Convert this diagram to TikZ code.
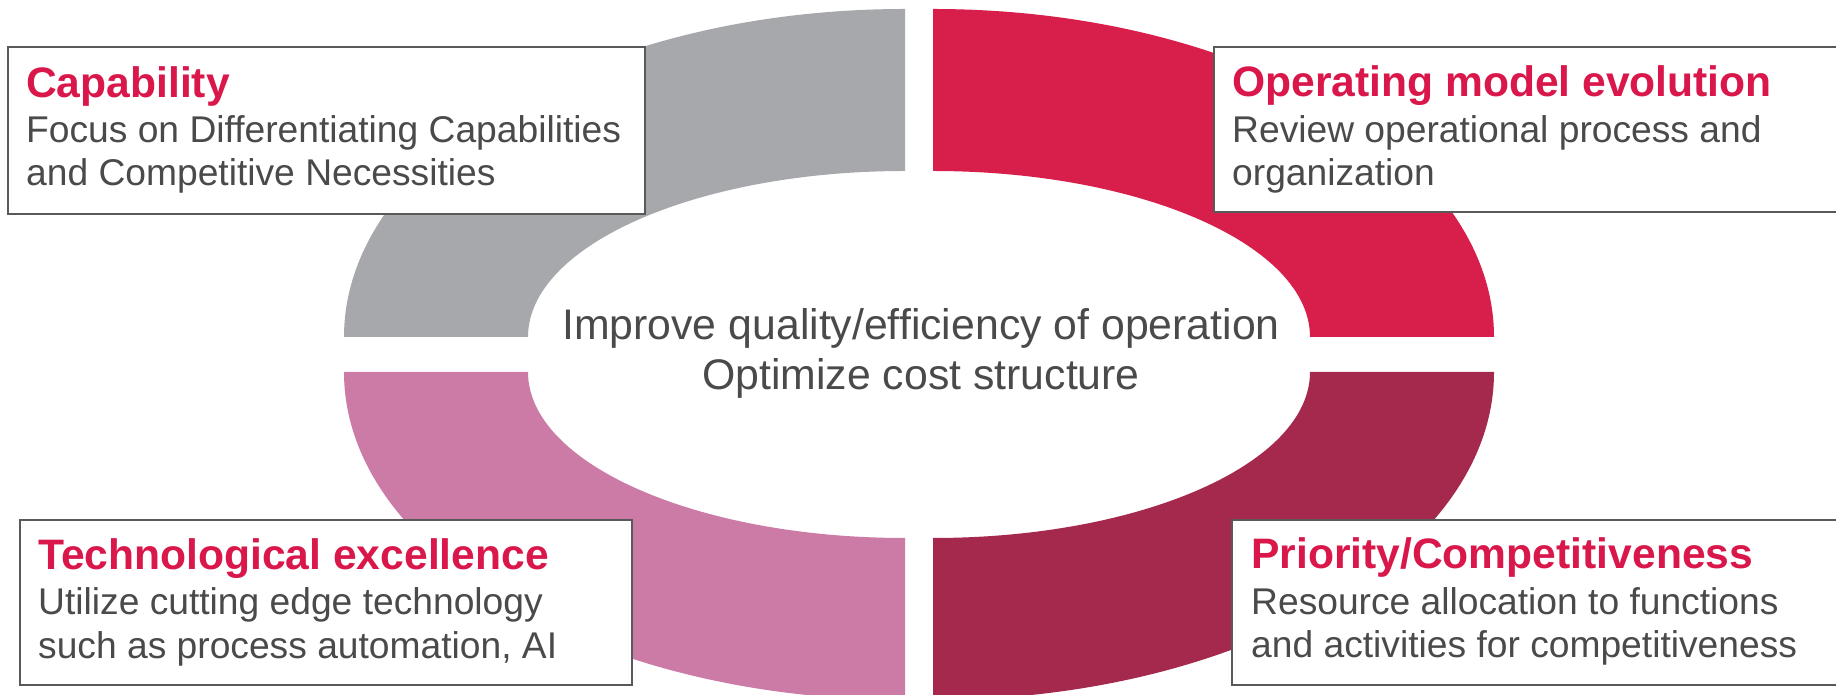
\documentclass[tikz,border=0pt]{standalone}
\usepackage{fontspec}
\setmainfont{Liberation Sans}
\definecolor{qgray}{HTML}{A7A8AC}
\definecolor{qred}{HTML}{D81F4B}
\definecolor{qpink}{HTML}{CB7BA6}
\definecolor{qdark}{HTML}{A5294C}
\definecolor{ttl}{HTML}{D9174A}
\definecolor{bodytxt}{HTML}{4A4A4A}
\definecolor{boxline}{HTML}{595959}
\tikzset{
  infobox/.style={draw=boxline, line width=2pt, fill=white, rectangle, anchor=north west, inner sep=0pt},
  ttltext/.style={anchor=base west, inner sep=0pt, text=ttl, font=\fontsize{42.6}{48}\selectfont\bfseries},
  bodytext/.style={anchor=base west, inner sep=0pt, text=bodytxt, font=\fontsize{37.2}{44}\selectfont},
  centertext/.style={anchor=base, inner sep=0pt, text=bodytxt, font=\fontsize{42.8}{50}\selectfont}
}
\begin{document}
\begin{tikzpicture}[x=1pt,y=1pt]
\useasboundingbox (0,0) rectangle (1836,695);
\clip (0,0) rectangle (1836,695);
% quadrant rings
\fill[qgray] (344,358) arc[start angle=180,end angle=90,x radius=561,y radius=328]
  -- (905,524) arc[start angle=90,end angle=180,x radius=377,y radius=166] -- cycle;
\fill[qred] (933,686) arc[start angle=90,end angle=0,x radius=561,y radius=328]
  -- (1310,358) arc[start angle=0,end angle=90,x radius=377,y radius=166] -- cycle;
\fill[qpink] (344,323) arc[start angle=180,end angle=270,x radius=561,y radius=328]
  -- (905,157) arc[start angle=270,end angle=180,x radius=377,y radius=166] -- cycle;
\fill[qdark] (933,-5) arc[start angle=270,end angle=360,x radius=561,y radius=328]
  -- (1310,323) arc[start angle=0,end angle=-90,x radius=377,y radius=166] -- cycle;
% center text
\node[centertext] (c1) at (921,355) {Improve quality/efficiency of operation};
\node[centertext] (c2) at (921,305) {Optimize cost structure};
% boxes
\node[infobox, minimum width=637pt, minimum height=167pt] (b1) at (7,649) {};
\node[infobox, minimum width=640pt, minimum height=165pt] (b2) at (1213,649) {};
\node[infobox, minimum width=612pt, minimum height=165pt] (b3) at (19,176) {};
\node[infobox, minimum width=640pt, minimum height=165pt] (b4) at (1231,176) {};
% box texts
\node[ttltext] (t1) at (26,597) {Capability};
\node[bodytext] (t1a) at (26,552) {Focus on Differentiating Capabilities};
\node[bodytext] (t1b) at (26,509) {and Competitive Necessities};
\node[ttltext] (t2) at (1232,598) {Operating model evolution};
\node[bodytext] (t2a) at (1232,552) {Review operational process and};
\node[bodytext] (t2b) at (1232,509) {organization};
\node[ttltext] (t3) at (38,125) {Technological excellence};
\node[bodytext] (t3a) at (38,80) {Utilize cutting edge technology};
\node[bodytext] (t3b) at (38,36) {such as process automation, AI};
\node[ttltext] (t4) at (1251,126) {Priority/Competitiveness};
\node[bodytext] (t4a) at (1251,80) {Resource allocation to functions};
\node[bodytext] (t4b) at (1251,37) {and activities for competitiveness};
\end{tikzpicture}
\end{document}
